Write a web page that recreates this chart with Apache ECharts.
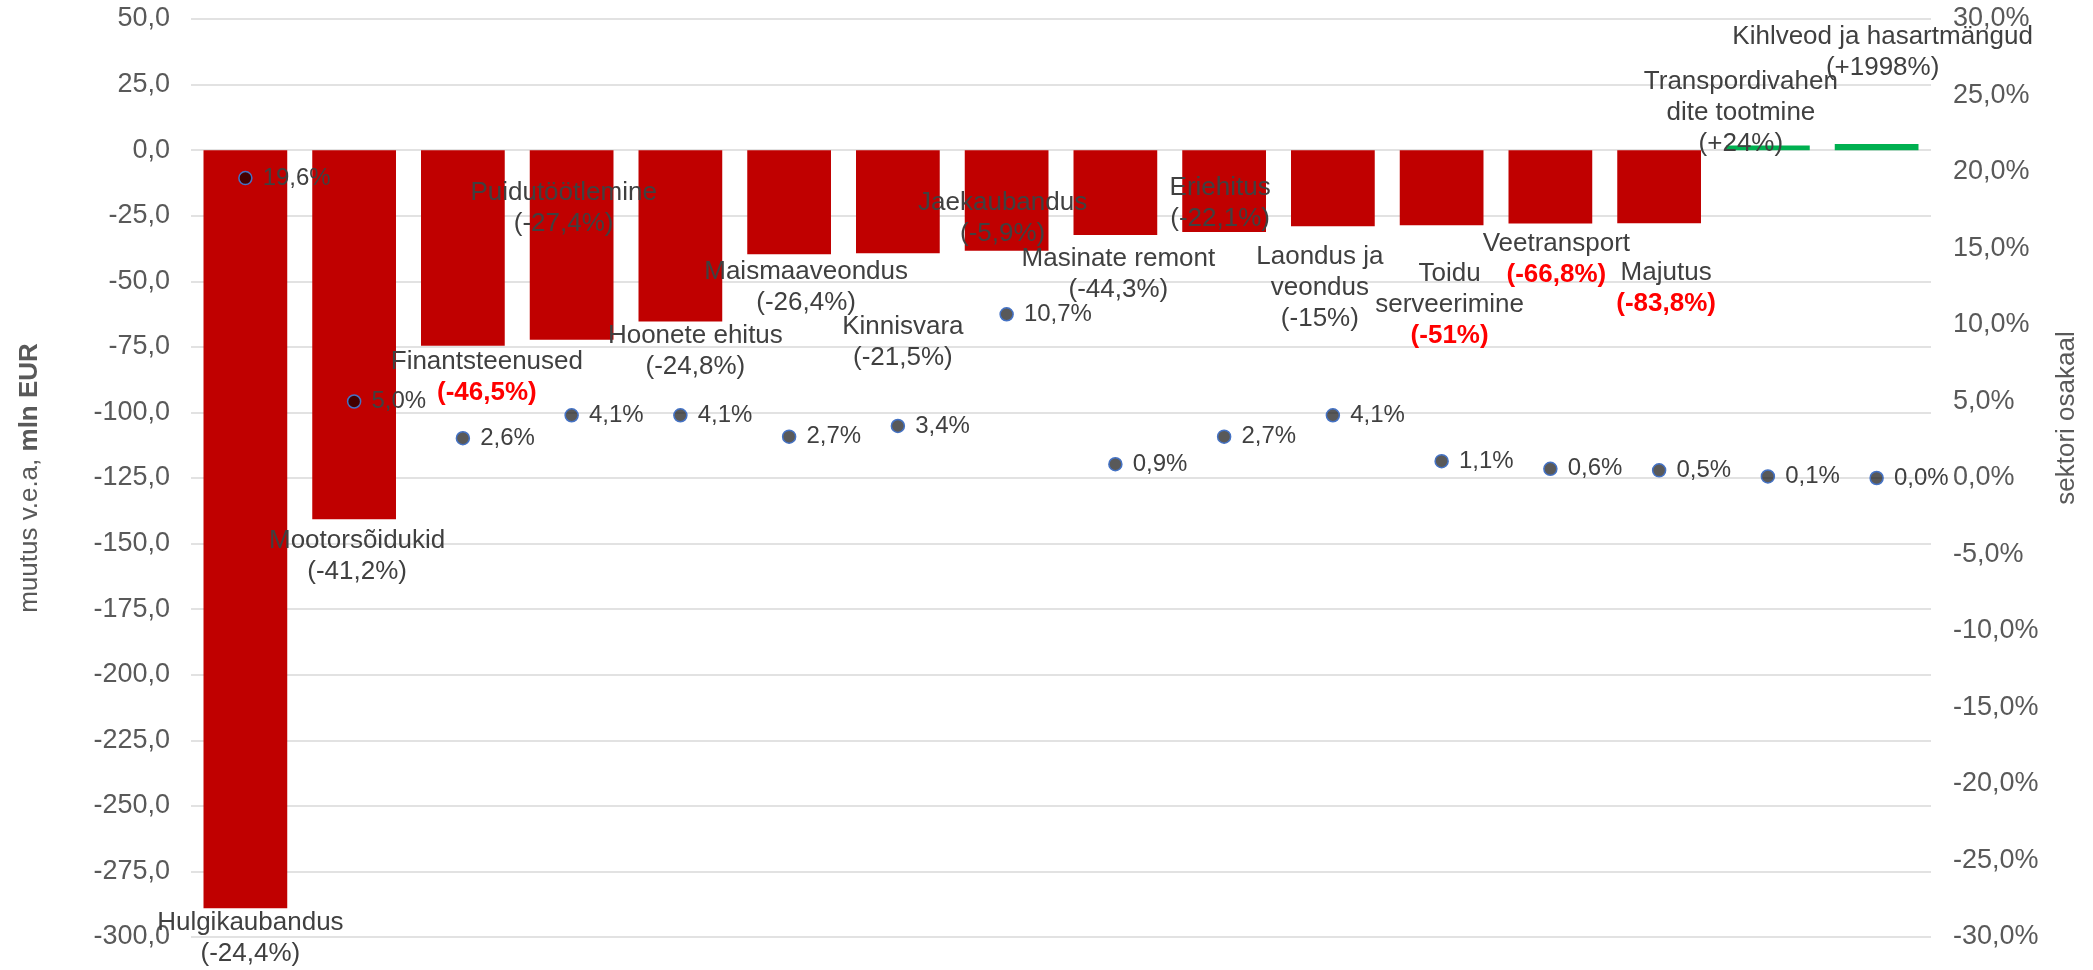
<!DOCTYPE html>
<html>
<head>
<meta charset="utf-8">
<script src="https://cdn.jsdelivr.net/npm/echarts@6/dist/echarts.min.js"></script>
<style>
  html, body { margin: 0; padding: 0; background: #ffffff; }
  #chart { width: 2093px; height: 970px; }
</style>
</head>
<body>
<div id="chart"></div>
<script>
// sectors, as labelled in the picture (manual line breaks kept)
const categories = [
  'Hulgikaubandus',
  'Mootorsõidukid',
  'Finantsteenused',
  'Puidutöötlemine',
  'Hoonete ehitus',
  'Maismaaveondus',
  'Kinnisvara',
  'Jaekaubandus',
  'Masinate remont',
  'Eriehitus',
  'Laondus ja\nveondus',
  'Toidu\nserveerimine',
  'Veetransport',
  'Majutus',
  'Transpordivahen\ndite tootmine',
  'Kihlveod ja hasartmängud',
];

// change y-o-y, mln EUR (left axis)
const changeMln = [
  -289, -140.7, -74.6, -72.3, -65.3, -39.7, -39.3, -38.4,
  -32.4, -31.2, -29.0, -28.6, -28.0, -27.9, 1.8, 2.3,
];

// change y-o-y, % (shown in brackets)
const changePct = [
  -24.4, -41.2, -46.5, -27.4, -24.8, -26.4, -21.5, -5.9,
  -44.3, -22.1, -15, -51, -66.8, -83.8, 24, 1998,
];

// sector share, % (right axis)
const sectorShare = [
  19.6, 5.0, 2.6, 4.1, 4.1, 2.7, 3.4, 10.7,
  0.9, 2.7, 4.1, 1.1, 0.6, 0.5, 0.1, 0.0,
];

const leftTicks = { min: -300, max: 50, interval: 25 };
const rightTicks = { min: -30, max: 30, interval: 5 };

// label nudges from the bar centre, px
const labelOffsets = [
  [5, 409], [3, 222], [24, 129], [-8, -37], [15, 116], [17, 85],
  [5, 141], [-4, 18], [3, 82], [-4, 12], [-13, 100], [8, 117],
  [6, 72], [7, 102], [-27, -35], [6, -95],
];

const FONT = '"Liberation Sans", Arial, sans-serif';
const comma = (v) => String(v).replace('.', ',');

function pctText(v) {
  const s = (v > 0 ? '+' : '') + comma(v) + '%';
  return v <= -45 ? `{hi|(${s})}` : `(${s})`;
}

const chart = echarts.init(document.getElementById('chart'));

chart.setOption({
  animation: false,
  backgroundColor: '#ffffff',
  textStyle: { fontFamily: FONT },
  grid: { left: 191, right: 162, top: 19, bottom: 33, containLabel: false },
  xAxis: {
    type: 'category',
    data: categories,
    axisLine: { show: false },
    axisTick: { show: false },
    axisLabel: { show: false },
  },
  yAxis: [
    {
      type: 'value',
      ...leftTicks,
      name: '{a|muutus v.e.a, }{b|mln EUR}',
      nameLocation: 'middle',
      nameGap: 148,
      nameTextStyle: {
        rich: {
          a: { fontSize: 26, color: '#595959', fontFamily: FONT },
          b: { fontSize: 26, color: '#595959', fontWeight: 'bold', fontFamily: FONT },
        },
      },
      axisLine: { show: false },
      axisTick: { show: false },
      axisLabel: {
        color: '#595959',
        fontSize: 27,
        margin: 21,
        formatter: (v) => v.toFixed(1).replace('.', ','),
      },
      splitLine: { lineStyle: { color: '#d9d9d9', width: 1.5 } },
    },
    {
      type: 'value',
      ...rightTicks,
      axisLine: { show: false },
      axisTick: { show: false },
      axisLabel: {
        color: '#595959',
        fontSize: 27,
        margin: 22,
        formatter: (v) => v.toFixed(1).replace('.', ',') + '%',
      },
      splitLine: { show: false },
    },
  ],
  graphic: [
    {
      type: 'text',
      x: 2067,
      y: 418,
      rotation: Math.PI / 2,
      style: {
        text: 'sektori osakaal',
        fontSize: 26,
        fontFamily: FONT,
        fill: '#595959',
        align: 'center',
        verticalAlign: 'middle',
      },
    },
  ],
  series: [
    {
      type: 'bar',
      barWidth: '77%',
      data: changeMln.map((v, i) => ({
        value: v,
        itemStyle: { color: v < 0 ? '#c00000' : '#00b050' },
        label: { offset: labelOffsets[i] },
      })),
      label: {
        show: true,
        position: 'inside',
        color: '#404040',
        fontSize: 26,
        lineHeight: 31,
        fontFamily: FONT,
        align: 'center',
        verticalAlign: 'middle',
        formatter: (p) => `${categories[p.dataIndex]}\n${pctText(changePct[p.dataIndex])}`,
        rich: {
          hi: {
            color: '#ff0000',
            fontWeight: 'bold',
            fontSize: 26,
            lineHeight: 31,
            fontFamily: FONT,
          },
        },
      },
      z: 2,
    },
    {
      type: 'scatter',
      yAxisIndex: 1,
      data: sectorShare,
      symbol: 'circle',
      symbolSize: 13,
      itemStyle: {
        color: 'rgba(0,0,0,0.65)',
        borderColor: '#4472c4',
        borderWidth: 1.5,
        opacity: 1,
      },
      label: {
        show: true,
        position: 'right',
        distance: 10,
        color: '#404040',
        fontSize: 24,
        fontFamily: FONT,
        formatter: (p) => p.value.toFixed(1).replace('.', ',') + '%',
      },
      z: 3,
    },
  ],
});
</script>
</body>
</html>
